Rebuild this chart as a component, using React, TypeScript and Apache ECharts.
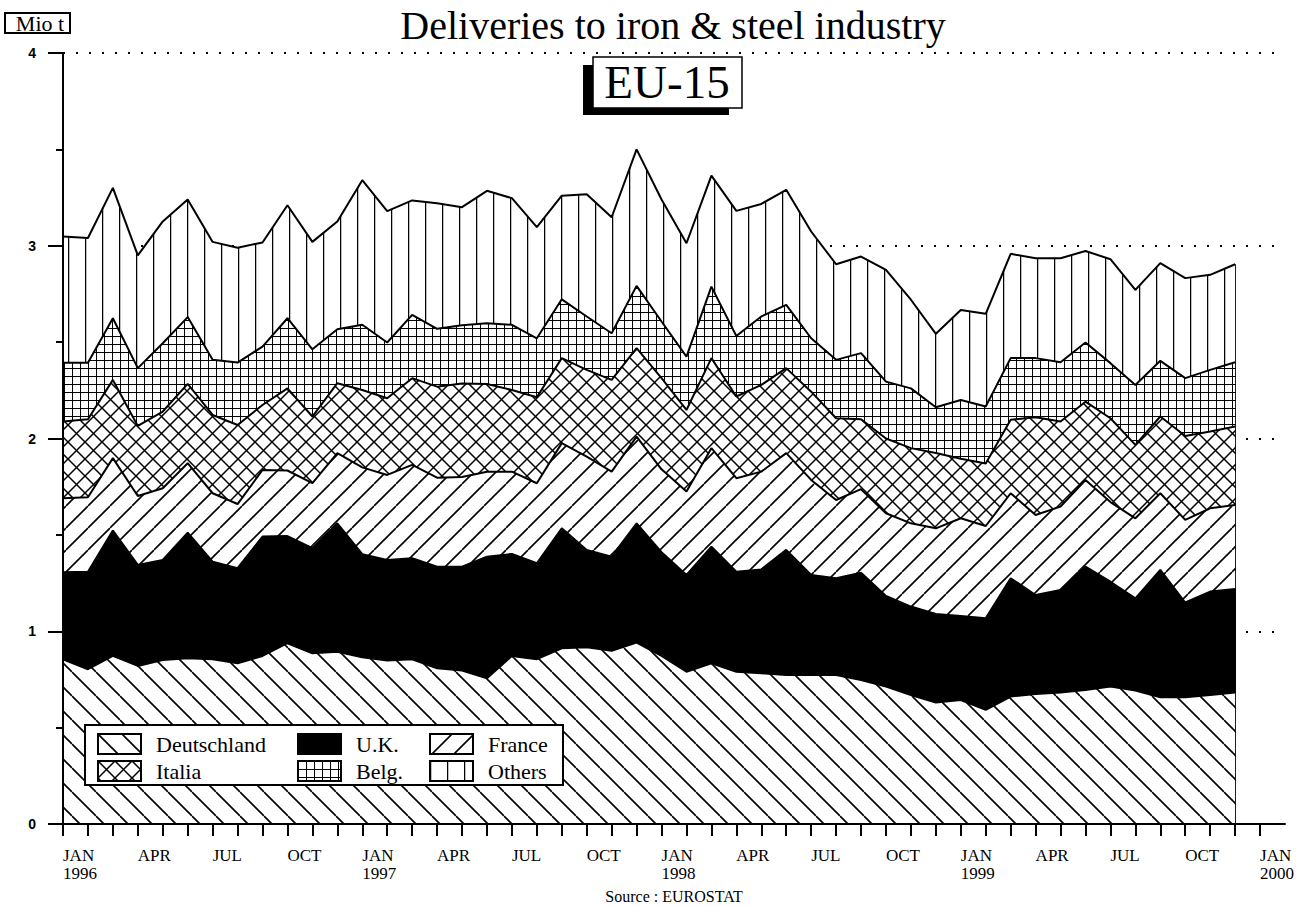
import React, { useEffect, useRef } from 'react';
import * as echarts from 'echarts';

// ---- data (Mio t), monthly Jan 1996 .. Dec 1999 ----
const monthNames = ['JAN', 'FEB', 'MAR', 'APR', 'MAY', 'JUN', 'JUL', 'AUG', 'SEP', 'OCT', 'NOV', 'DEC'];
const startYear = 1996;
const axisSlots = 50; // Jan 1996 .. Jan 2000 plus a little room to the right

const deutschland = [
  0.855, 0.803, 0.872, 0.820, 0.851, 0.860, 0.855, 0.834, 0.872, 0.938, 0.886, 0.894,
  0.865, 0.848, 0.855, 0.808, 0.796, 0.756, 0.872, 0.855, 0.912, 0.917, 0.899, 0.941,
  0.872, 0.790, 0.834, 0.790, 0.782, 0.773, 0.773, 0.773, 0.747, 0.713, 0.669, 0.630,
  0.643, 0.592, 0.661, 0.675, 0.682, 0.695, 0.713, 0.692, 0.657, 0.657, 0.669, 0.682,
];
const uk = [
  0.451, 0.506, 0.650, 0.524, 0.519, 0.652, 0.506, 0.493, 0.619, 0.556, 0.545, 0.666,
  0.535, 0.522, 0.524, 0.527, 0.539, 0.631, 0.529, 0.498, 0.622, 0.505, 0.488, 0.619,
  0.538, 0.502, 0.605, 0.519, 0.539, 0.649, 0.519, 0.502, 0.557, 0.470, 0.459, 0.460,
  0.436, 0.475, 0.614, 0.513, 0.532, 0.640, 0.544, 0.479, 0.661, 0.492, 0.537, 0.537,
];
const france = [
  0.384, 0.386, 0.376, 0.358, 0.372, 0.360, 0.355, 0.333, 0.346, 0.340, 0.337, 0.364,
  0.450, 0.441, 0.484, 0.462, 0.465, 0.441, 0.427, 0.415, 0.442, 0.484, 0.441, 0.450,
  0.430, 0.433, 0.511, 0.485, 0.507, 0.502, 0.493, 0.406, 0.433, 0.429, 0.432, 0.444,
  0.507, 0.479, 0.441, 0.415, 0.433, 0.450, 0.413, 0.415, 0.398, 0.429, 0.432, 0.436,
];
const italia = [
  0.398, 0.405, 0.406, 0.363, 0.398, 0.411, 0.406, 0.410, 0.337, 0.426, 0.346, 0.363,
  0.402, 0.398, 0.450, 0.472, 0.485, 0.455, 0.424, 0.446, 0.441, 0.450, 0.476, 0.459,
  0.473, 0.423, 0.467, 0.424, 0.450, 0.441, 0.458, 0.424, 0.363, 0.388, 0.390, 0.391,
  0.309, 0.324, 0.381, 0.507, 0.441, 0.406, 0.435, 0.381, 0.398, 0.435, 0.398, 0.407,
];
const belg = [
  0.305, 0.293, 0.320, 0.300, 0.354, 0.347, 0.286, 0.324, 0.303, 0.364, 0.349, 0.280,
  0.338, 0.289, 0.328, 0.300, 0.303, 0.315, 0.338, 0.306, 0.305, 0.277, 0.242, 0.323,
  0.294, 0.277, 0.371, 0.314, 0.355, 0.328, 0.277, 0.303, 0.343, 0.295, 0.310, 0.237,
  0.305, 0.296, 0.320, 0.307, 0.308, 0.307, 0.286, 0.311, 0.289, 0.300, 0.320, 0.334,
];
const others = [
  0.655, 0.647, 0.676, 0.585, 0.632, 0.610, 0.612, 0.596, 0.540, 0.586, 0.557, 0.559,
  0.750, 0.682, 0.594, 0.651, 0.612, 0.687, 0.657, 0.577, 0.538, 0.634, 0.602, 0.708,
  0.633, 0.588, 0.576, 0.649, 0.584, 0.597, 0.554, 0.496, 0.501, 0.580, 0.460, 0.381,
  0.467, 0.481, 0.541, 0.518, 0.539, 0.475, 0.539, 0.493, 0.507, 0.519, 0.493, 0.508,
];

const seriesNames = ['Deutschland', 'U.K.', 'France', 'Italia', 'Belg.', 'Others'];
const seriesValues = [deutschland, uk, france, italia, belg, others];

const SERIF = "'Liberation Serif', 'Times New Roman', Times, serif";
const SANS = "'Liberation Sans', Arial, Helvetica, sans-serif";

function tile(w: number, h: number, body: string) {
  const svg =
    `<svg xmlns="http://www.w3.org/2000/svg" width="${w}" height="${h}">` +
    `<rect width="${w}" height="${h}" fill="#ffffff"/>${body}</svg>`;
  return {
    image: 'data:image/svg+xml;charset=utf-8,' + encodeURIComponent(svg),
    repeat: 'repeat',
    imageWidth: w,
    imageHeight: h,
  };
}

function makeFills() {
  const d = 24;
  const patD = tile(d, d,
    `<path d="M0,${-d} L${d},0 M0,0 L${d},${d} M0,${d} L${d},${2 * d}" stroke="#000" stroke-width="1.6" fill="none"/>`);
  const f = 22;
  const patF = tile(f, f,
    `<path d="M0,0 L${f},${-f} M0,${f} L${f},0 M0,${2 * f} L${f},${f}" stroke="#000" stroke-width="1.6" fill="none"/>`);
  const c = 17;
  const patI = tile(c, c,
    `<path d="M0,${-c} L${c},0 M0,0 L${c},${c} M0,${c} L${c},${2 * c} M0,0 L${c},${-c} M0,${c} L${c},0 M0,${2 * c} L${c},${c}" stroke="#000" stroke-width="1.5" fill="none"/>`);
  const g = 8;
  const patB = tile(g, g,
    `<path d="M0.5,0 V${g} M0,0.5 H${g}" stroke="#000" stroke-width="1" fill="none"/>`);
  const v = 17;
  const patO = tile(v, 10,
    `<path d="M0.6,0 V10" stroke="#000" stroke-width="1.3" fill="none"/>`);
  return [patD, '#000000', patF, patI, patB, patO];
}

export default function App() {
  const ref = useRef<HTMLDivElement>(null);

  useEffect(() => {
    if (!ref.current) return;
    const chart = echarts.init(ref.current, undefined, { renderer: 'svg' });
    const fills = makeFills();
    const n = deutschland.length;
    const categories = Array.from({ length: axisSlots }, (_, i) => String(i));
    const lastTotal = seriesValues.reduce((s, arr) => s + arr[n - 1], 0);

    const series = seriesNames.map((name, k) => ({
      name,
      type: 'line',
      stack: 'total',
      yAxisIndex: 0,
      data: seriesValues[k],
      symbol: 'none',
      showSymbol: false,
      silent: true,
      z: 10 - k,
      lineStyle: { color: '#000', width: 2 },
      itemStyle: { color: '#000' },
      areaStyle: { color: fills[k], opacity: 1 },
      emphasis: { disabled: true },
      markLine: k === 0 ? {
        silent: true,
        symbol: ['none', 'none'],
        label: { show: false },
        lineStyle: { color: '#000', width: 2, type: 'solid' },
        data: [[{ coord: [n - 1, 0] }, { coord: [n - 1, lastTotal] }]],
      } : undefined,
    }));

    const legendItem = (name: string) => ({
      name,
      icon: 'rect',
      itemStyle: { color: fills[seriesNames.indexOf(name)], borderColor: '#000', borderWidth: 2 },
    });
    const legendCommon = {
      orient: 'vertical',
      top: 733,
      itemWidth: 43,
      itemHeight: 20,
      itemGap: 5,
      padding: 0,
      selectedMode: false,
      z: 15,
      textStyle: { fontFamily: SERIF, fontSize: 22, color: '#000', padding: [0, 0, 0, 10] },
    };

    chart.setOption({
      animation: false,
      backgroundColor: '#ffffff',
      grid: { left: 63, right: 18, top: 53, bottom: 82, containLabel: false },
      xAxis: {
        type: 'category',
        data: categories,
        boundaryGap: false,
        z: 20,
        axisLine: { show: true, onZero: false, lineStyle: { color: '#000', width: 2 } },
        axisTick: {
          show: true,
          interval: (idx: number) => idx <= 48,
          length: 12,
          lineStyle: { color: '#000', width: 2 },
        },
        axisLabel: {
          interval: (idx: number) => idx % 3 === 0 && idx <= 48,
          formatter: (_val: string, idx: number) => {
            const name = monthNames[idx % 12];
            return idx % 12 === 0 ? `${name}\n${startYear + idx / 12}` : name;
          },
          align: 'left',
          margin: 22,
          fontFamily: SERIF,
          fontSize: 17,
          lineHeight: 18,
          color: '#000',
        },
        splitLine: { show: false },
      },
      yAxis: [
        {
          type: 'value',
          min: 0,
          max: 4,
          interval: 1,
          z: 0,
          axisLine: { show: false },
          axisTick: { show: false },
          axisLabel: { show: false },
          splitLine: { show: true, lineStyle: { color: '#000', width: 2, type: [2, 11] } },
        },
        {
          type: 'value',
          min: 0,
          max: 4,
          interval: 1,
          position: 'left',
          z: 20,
          axisLine: { show: true, onZero: false, lineStyle: { color: '#000', width: 2 } },
          axisTick: { show: true, length: 15, lineStyle: { color: '#000', width: 2 } },
          minorTick: { show: true, splitNumber: 2, length: 7, lineStyle: { color: '#000', width: 2 } },
          axisLabel: { margin: 27, fontFamily: SANS, fontWeight: 'bold', fontSize: 14, color: '#000' },
          splitLine: { show: false },
        },
      ],
      legend: [
        { ...legendCommon, left: 97, data: [legendItem('Deutschland'), legendItem('Italia')] },
        { ...legendCommon, left: 297, data: [legendItem('U.K.'), legendItem('Belg.')] },
        { ...legendCommon, left: 429, data: [legendItem('France'), legendItem('Others')] },
      ],
      graphic: [
        {
          type: 'text', x: 673, y: 25, z: 20,
          style: { text: 'Deliveries to iron & steel industry', fontFamily: SERIF, fontSize: 40, fill: '#000', align: 'center', verticalAlign: 'middle' },
        },
        { type: 'rect', z: 20, shape: { x: 583, y: 65, width: 146, height: 50 }, style: { fill: '#000' } },
        { type: 'rect', z: 21, shape: { x: 593, y: 57, width: 149, height: 51 }, style: { fill: '#fff', stroke: '#000', lineWidth: 1.5 } },
        {
          type: 'text', x: 667, y: 82, z: 22,
          style: { text: 'EU-15', fontFamily: SERIF, fontSize: 47, fill: '#000', align: 'center', verticalAlign: 'middle' },
        },
        { type: 'rect', z: 20, shape: { x: 5, y: 13, width: 65, height: 20 }, style: { fill: '#fff', stroke: '#000', lineWidth: 2 } },
        {
          type: 'text', x: 40, y: 23, z: 21,
          style: { text: 'Mio t', fontFamily: SERIF, fontSize: 22, fill: '#000', align: 'center', verticalAlign: 'middle' },
        },
        {
          type: 'text', x: 674, y: 896, z: 20,
          style: { text: 'Source : EUROSTAT', fontFamily: SERIF, fontSize: 16, fill: '#000', align: 'center', verticalAlign: 'middle' },
        },
        { type: 'rect', z: 14, shape: { x: 85, y: 725, width: 478, height: 60 }, style: { fill: '#fff', stroke: '#000', lineWidth: 2 } },
      ],
      series,
    });

    return () => chart.dispose();
  }, []);

  return (
    <div
      ref={ref}
      style={{ position: 'absolute', left: 0, top: 0, width: 1303, height: 906, background: '#fff' }}
    />
  );
}
